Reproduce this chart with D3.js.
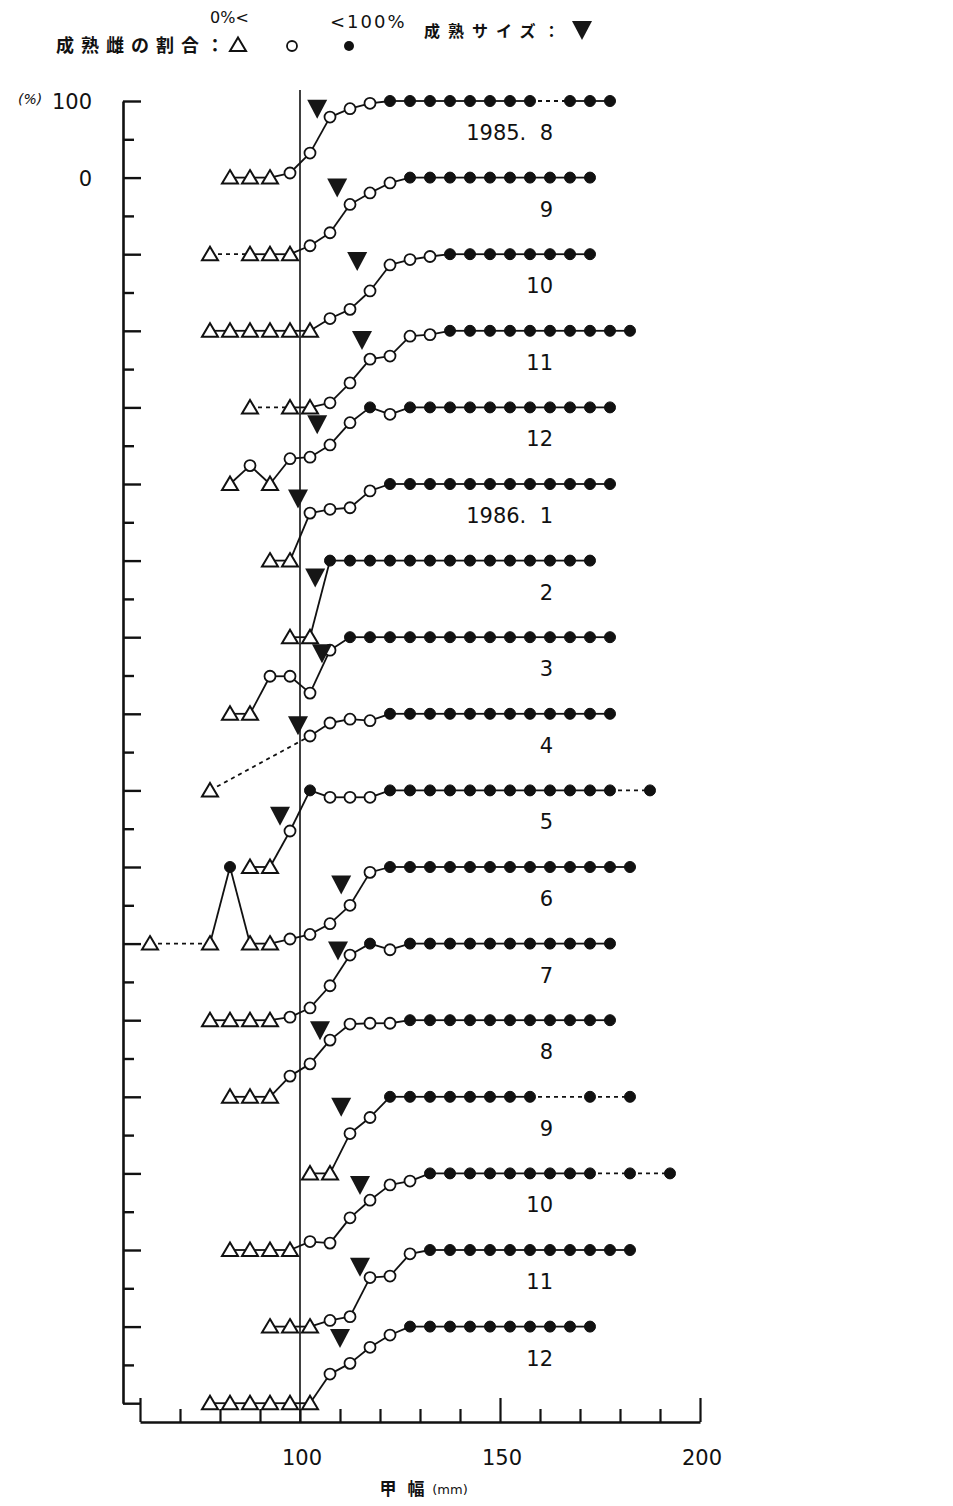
<!DOCTYPE html>
<html><head><meta charset="utf-8">
<script src="https://cdn.jsdelivr.net/npm/d3@7/dist/d3.min.js"></script>
<style>
html,body{margin:0;padding:0;background:#fff;}
svg{display:block;}
.num{font-family:"DejaVu Sans","Liberation Sans",sans-serif;fill:#111;}
.jp{font-family:"Noto Sans CJK JP",sans-serif;fill:#111;}
</style></head>
<body>
<script>
// ---------- data ----------
const rowLabels = ["1985.  8","9","10","11","12","1986.  1","2","3","4","5","6","7","8","9","10","11","12"];
// first class mid-point (mm) of each row; classes are 5 mm wide
const rowStart = [82.5,77.5,77.5,87.5,82.5,92.5,97.5,82.5,77.5,87.5,62.5,77.5,82.5,102.5,82.5,92.5,77.5];
// percentage of mature females per class (null = no sample)
const m1985_08 = [0,0,0,6,32,79,90,97,100,100,100,100,100,100,100,100,null,100,100,100];
const m1985_09 = [0,null,0,0,0,11,28,65,80,93,100,100,100,100,100,100,100,100,100,100];
const m1985_10 = [0,0,0,0,0,0,16,28,52,86,93,97,100,100,100,100,100,100,100,100];
const m1985_11 = [0,null,0,0,6,32,63,67,93,95,100,100,100,100,100,100,100,100,100,100];
const m1985_12 = [0,24,0,33,35,51,80,100,91,100,100,100,100,100,100,100,100,100,100,100];
const m1986_01 = [0,0,62,67,69,91,100,100,100,100,100,100,100,100,100,100,100,100];
const m1986_02 = [0,0,100,100,100,100,100,100,100,100,100,100,100,100,100,100];
const m1986_03 = [0,0,49,49,27,83,100,100,100,100,100,100,100,100,100,100,100,100,100,100];
const m1986_04 = [0,null,null,null,null,71,88,93,91,100,100,100,100,100,100,100,100,100,100,100,100];
const m1986_05 = [0,0,47,100,91,91,91,100,100,100,100,100,100,100,100,100,100,100,100,null,100];
const m1986_06 = [0,null,null,0,100,0,0,6,12,26,50,93,100,100,100,100,100,100,100,100,100,100,100,100,100];
const m1986_07 = [0,0,0,0,4,16,45,85,100,92,100,100,100,100,100,100,100,100,100,100,100];
const m1986_08 = [0,0,0,27,43,74,95,96,96,100,100,100,100,100,100,100,100,100,100,100];
const m1986_09 = [0,0,52,73,100,100,100,100,100,100,100,100,null,null,100,null,100];
const m1986_10 = [0,0,0,0,11,9,42,65,85,90,100,100,100,100,100,100,100,100,100,null,100,null,100];
const m1986_11 = [0,0,0,8,13,64,66,95,100,100,100,100,100,100,100,100,100,100,100];
const m1986_12 = [0,0,0,0,0,0,38,52,73,89,100,100,100,100,100,100,100,100,100,100];
const rowValues = [m1985_08,m1985_09,m1985_10,m1985_11,m1985_12,m1986_01,m1986_02,m1986_03,m1986_04,
                   m1986_05,m1986_06,m1986_07,m1986_08,m1986_09,m1986_10,m1986_11,m1986_12];
// maturity size (mm) and the level (%) at which its mark is drawn
const matureSize  = [104.3,109.3,114.3,115.5,104.3,99.5,103.8,105.5,99.5,95,110.3,109.5,105,110.3,115,115,110];
const matureLevel = [90,87,91,88,78,81,78,79,85,67,77,91,87,87,85,78,85];
const xTickValues = [60,70,80,90,100,110,120,130,140,150,160,170,180,190,200];
const xTickLabels = [100,150,200];
const classWidth = 5;

// ---------- drawing ----------
const W = 953, H = 1506;
const svg = d3.select("body").append("svg").attr("width", W).attr("height", H);

const x = d3.scaleLinear().domain([60, 200]).range([140, 700]);
const nRows = rowLabels.length;
const rowPos = d3.scaleLinear().domain([0, nRows]).range([101, 101 + nRows * 76.6]);
const yOf = (i, p) => rowPos(i + 1 - p / 100);

// vertical reference line at 100 mm
svg.append("line").attr("x1", x(100)).attr("x2", x(100)).attr("y1", 90).attr("y2", 1422)
  .attr("stroke", "#111").attr("stroke-width", 1.6);

// y axis
const yAx = svg.append("g").attr("transform", "translate(123,0)")
  .call(d3.axisRight(rowPos).tickValues(d3.range(0, nRows + 0.01, 0.5)).tickFormat("").tickSize(18).tickSizeOuter(0));
yAx.select(".domain").attr("stroke", "#111").attr("stroke-width", 2.6);
yAx.selectAll(".tick line").attr("stroke", "#111").attr("stroke-width", 2.4)
  .attr("x2", d => (d % 1 === 0 ? 18 : 11));

svg.append("text").attr("class", "num").attr("x", 92).attr("y", 109).attr("text-anchor", "end")
  .attr("font-size", 21).text("100");
svg.append("text").attr("class", "num").attr("x", 92).attr("y", 186).attr("text-anchor", "end")
  .attr("font-size", 21).text("0");
svg.append("text").attr("class", "num").attr("x", 18).attr("y", 104)
  .attr("font-size", 14).attr("font-style", "italic").text("(%)");

// x axis
const xAx = svg.append("g").attr("transform", "translate(0,1422)")
  .call(d3.axisTop(x).tickValues(xTickValues).tickFormat("").tickSize(13).tickSizeOuter(0));
xAx.select(".domain").attr("stroke", "#111").attr("stroke-width", 2.6);
xAx.selectAll(".tick line").attr("stroke", "#111").attr("stroke-width", 2.2)
  .attr("y2", d => ([60,150,200].includes(d) ? -24 : -13));
svg.selectAll(".xlab").data(xTickLabels).enter().append("text")
  .attr("class", "num").attr("x", d => x(d) + 2).attr("y", 1465).attr("text-anchor", "middle")
  .attr("font-size", 21).text(d => d);
svg.append("text").attr("class", "jp").attr("x", 388).attr("y", 1495).attr("text-anchor", "middle")
  .attr("font-size", 17).attr("font-weight", "bold").text("甲");
svg.append("text").attr("class", "jp").attr("x", 416).attr("y", 1495).attr("text-anchor", "middle")
  .attr("font-size", 17).attr("font-weight", "bold").text("幅");
svg.append("text").attr("class", "num").attr("x", 450).attr("y", 1494).attr("text-anchor", "middle")
  .attr("font-size", 13).text("(mm)");

// symbols
const triUp = "M0,-7.5L8,6L-8,6Z";
const triDown = "M-10,-9L10,-9L0,10Z";

function drawTri(g, cx, cy) {
  g.append("path").attr("d", triUp).attr("transform", `translate(${cx},${cy})`)
    .attr("fill", "#fff").attr("stroke", "#111").attr("stroke-width", 2);
}

// series
rowValues.forEach((vals, i) => {
  const pts = vals.map((v, k) => ({ mm: rowStart[i] + k * classWidth, v, k })).filter(d => d.v !== null);
  const g = svg.append("g");
  // connecting segments
  for (let j = 1; j < pts.length; j++) {
    const a = pts[j - 1], b = pts[j];
    const gap = b.k - a.k > 1;
    g.append("line")
      .attr("x1", x(a.mm)).attr("y1", yOf(i, a.v))
      .attr("x2", x(b.mm)).attr("y2", yOf(i, b.v))
      .attr("stroke", "#111").attr("stroke-width", 1.8)
      .attr("stroke-dasharray", gap ? "4,4" : null);
  }
  // points
  pts.forEach(d => {
    const cx = x(d.mm), cy = yOf(i, d.v);
    if (d.v === 0) drawTri(g, cx, cy);
    else if (d.v === 100) g.append("circle").attr("cx", cx).attr("cy", cy).attr("r", 5.5)
      .attr("fill", "#111").attr("stroke", "#111").attr("stroke-width", 1);
    else g.append("circle").attr("cx", cx).attr("cy", cy).attr("r", 5.5)
      .attr("fill", "#fff").attr("stroke", "#111").attr("stroke-width", 1.8);
  });
  // maturity size mark
  g.append("path").attr("d", triDown)
    .attr("transform", `translate(${x(matureSize[i])},${yOf(i, matureLevel[i])})`)
    .attr("fill", "#161616");
  // month label
  g.append("text").attr("class", "num").attr("x", 553).attr("y", rowPos(i) + 39)
    .attr("text-anchor", "end").attr("font-size", 21).attr("xml:space", "preserve")
    .style("white-space", "pre").text(rowLabels[i]);
});

// legend
svg.append("text").attr("class", "jp").attr("x", 56).attr("y", 52).attr("font-size", 18)
  .attr("font-weight", "bold").attr("letter-spacing", 7).text("成熟雌の割合：");
drawTri(svg, 238, 45);
svg.append("circle").attr("cx", 292).attr("cy", 46).attr("r", 5).attr("fill", "#fff")
  .attr("stroke", "#111").attr("stroke-width", 1.8);
svg.append("circle").attr("cx", 349).attr("cy", 46).attr("r", 5).attr("fill", "#111");
svg.append("text").attr("class", "num").attr("x", 210).attr("y", 23).attr("font-size", 16)
  .text("0%<");
svg.append("text").attr("class", "num").attr("x", 330).attr("y", 28).attr("font-size", 18)
  .attr("letter-spacing", 2).text("<100%");
svg.append("text").attr("class", "jp").attr("x", 424).attr("y", 37).attr("font-size", 16)
  .attr("font-weight", "bold").attr("letter-spacing", 8).text("成熟サイズ：");
svg.append("path").attr("d", triDown).attr("transform", "translate(582,30)").attr("fill", "#161616");
</script>
</body></html>
